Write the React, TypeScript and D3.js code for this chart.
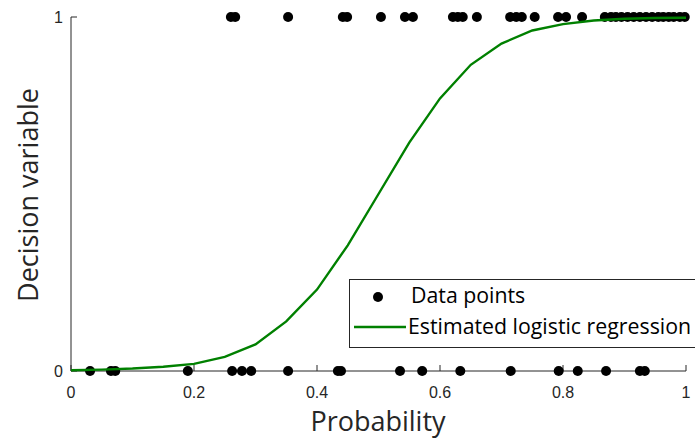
import React from "react";
import * as d3 from "d3";

const onesX = [0.26, 0.267, 0.353, 0.442, 0.449, 0.504, 0.543, 0.556, 0.621, 0.629, 0.637, 0.66, 0.714, 0.724, 0.733, 0.754, 0.792, 0.805, 0.831, 0.868, 0.878, 0.886, 0.895, 0.905, 0.915, 0.925, 0.935, 0.945, 0.955, 0.963, 0.972, 0.98, 0.99, 0.998];
const zerosX = [0.031, 0.065, 0.072, 0.19, 0.262, 0.278, 0.293, 0.353, 0.434, 0.439, 0.535, 0.571, 0.633, 0.715, 0.793, 0.824, 0.87, 0.925, 0.933];
const curveX = [0, 0.05, 0.1, 0.15, 0.2, 0.25, 0.3, 0.35, 0.4, 0.45, 0.5, 0.55, 0.6, 0.65, 0.7, 0.75, 0.8, 0.85, 0.9, 0.95, 1];
const curveY = [0.002, 0.004, 0.007, 0.012, 0.02, 0.04, 0.075, 0.14, 0.23, 0.355, 0.5, 0.645, 0.77, 0.865, 0.925, 0.962, 0.98, 0.99, 0.995, 0.997, 0.998];
const xTicks = [0, 0.2, 0.4, 0.6, 0.8, 1];
const yTicks = [0, 1];

export default function App() {
  const W = 695, H = 440;
  const x = d3.scaleLinear().domain([0, 1]).range([71, 686]);
  const y = d3.scaleLinear().domain([0, 1]).range([371, 17]);
  const line = d3.line<number>().x((_, i) => x(curveX[i])).y((d) => y(d));
  const axisColor = "#262626";
  const tickFont = "'Liberation Sans', Arial, sans-serif";
  const labelFont = "'Open Sans', sans-serif";
  return (
    <svg width={W} height={H} style={{ position: "absolute", left: 0, top: 0, background: "#fff" }}>
      {/* axes */}
      <line x1={x(0)} x2={x(0)} y1={y(1)} y2={y(0)} stroke={axisColor} strokeWidth={1} />
      <line x1={x(0)} x2={x(1)} y1={y(0)} y2={y(0)} stroke={axisColor} strokeWidth={1} />
      {xTicks.map((t) => (
        <g key={"x" + t}>
          <line x1={x(t)} x2={x(t)} y1={y(0)} y2={y(0) - 6} stroke={axisColor} />
          <text x={x(t)} y={398} textAnchor="middle" fontFamily={tickFont} fontSize={16} fill="#262626">{String(t)}</text>
        </g>
      ))}
      {yTicks.map((t) => (
        <g key={"y" + t}>
          <line x1={x(0)} x2={x(0) + 6} y1={y(t)} y2={y(t)} stroke={axisColor} />
          <text x={63} y={y(t) + 6} textAnchor="end" fontFamily={tickFont} fontSize={16} fill="#262626">{String(t)}</text>
        </g>
      ))}
      {/* points */}
      {onesX.map((v, i) => (
        <circle key={"o" + i} cx={x(v)} cy={y(1)} r={5} fill="#000" />
      ))}
      {zerosX.map((v, i) => (
        <circle key={"z" + i} cx={x(v)} cy={y(0)} r={5} fill="#000" />
      ))}
      {/* curve */}
      <path d={line(curveY) || ""} fill="none" stroke="#008000" strokeWidth={2.4} />
      {/* labels */}
      <text x={378} y={431} textAnchor="middle" fontFamily={labelFont} fontSize={27} fill="#262626">Probability</text>
      <text transform={`translate(38,195) rotate(-90)`} textAnchor="middle" fontFamily={labelFont} fontSize={27} fill="#262626">Decision variable</text>
      {/* legend */}
      <rect x={349.5} y={279.5} width={360} height={68} fill="#fff" stroke="#262626" strokeWidth={1} />
      <circle cx={378} cy={297} r={5} fill="#000" />
      <text x={411} y={303} fontFamily={labelFont} fontSize={21.3} fill="#000">Data points</text>
      <line x1={354} x2={406} y1={327} y2={327} stroke="#008000" strokeWidth={2.4} />
      <text x={408} y={334} fontFamily={labelFont} fontSize={21.3} fill="#000">Estimated logistic regression</text>
    </svg>
  );
}
